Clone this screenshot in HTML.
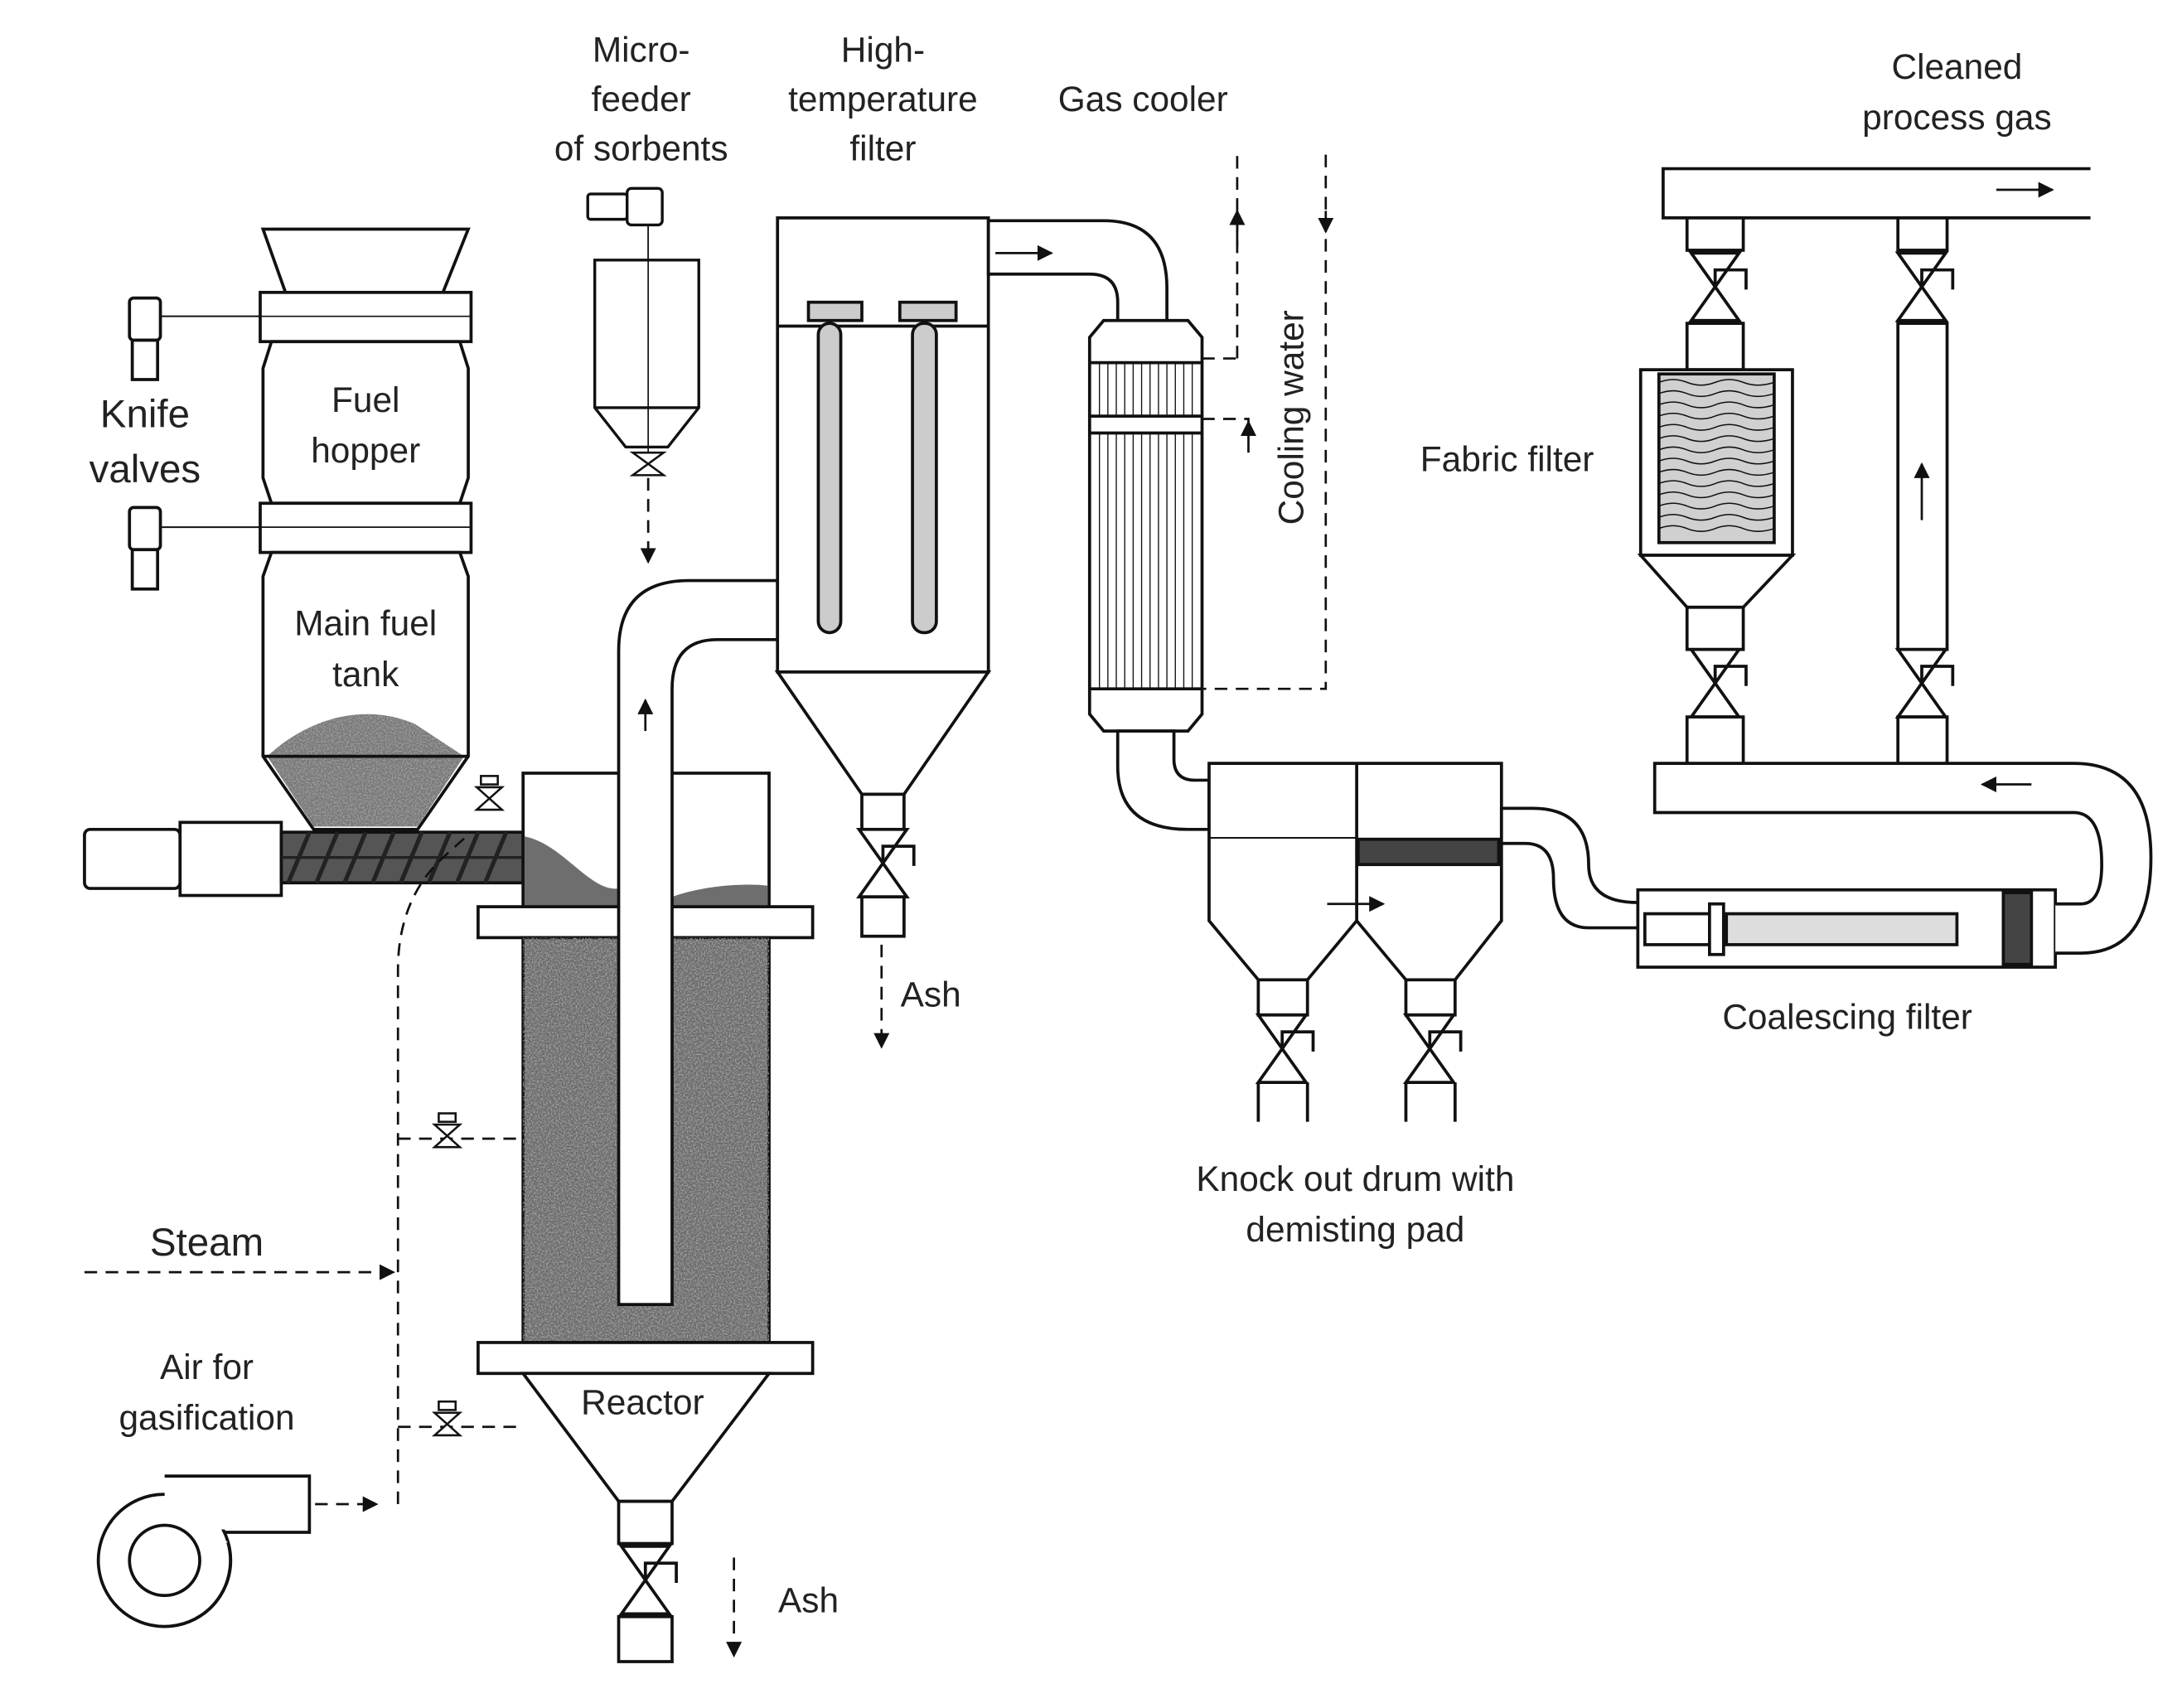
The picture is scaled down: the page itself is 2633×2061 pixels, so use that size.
<!DOCTYPE html>
<html><head><meta charset="utf-8"><style>
html,body{margin:0;padding:0;background:#fff;}
svg{display:block;}
text{font-family:"Liberation Sans",Arial,sans-serif;fill:#222;}
</style></head><body>
<svg width="2633" height="2061" viewBox="0 0 1552 1215" xmlns="http://www.w3.org/2000/svg">
<defs>
<filter id="grain" x="0" y="0" width="100%" height="100%">
<feTurbulence type="fractalNoise" baseFrequency="0.9" numOctaves="2" seed="3"/>
<feColorMatrix type="matrix" values="0 0 0 0 0.35  0 0 0 0 0.35  0 0 0 0 0.35  0 0 0 3 -1.2"/>
<feComposite in2="SourceGraphic" operator="in"/>
</filter>
<g id="valve" stroke="#111" stroke-width="2.2" fill="#fff">
<path d="M-17,-24 L17,-24 L-17,24 L17,24 Z"/>
<path d="M0,0 V-12 H22 V2" fill="none"/>
</g>
<g id="sv" stroke="#111" stroke-width="1.5" fill="#fff">
<path d="M-9,-8 L9,-8 L-9,8 L9,8 Z"/>
<rect x="-6" y="-16" width="12" height="6" fill="#fff"/>
</g>
<marker id="ah" viewBox="0 0 10 10" refX="9" refY="5" markerWidth="7" markerHeight="7" orient="auto"><path d="M0,0 L10,5 L0,10 Z" fill="#111"/></marker>
</defs>
<g stroke="#111" stroke-width="2.2" fill="#fff">

<polygon points="187,163 333,163 315,208 203,208"/>
<rect x="185" y="208" width="150" height="35"/>
<line x1="185" y1="225" x2="335" y2="225" stroke-width="1"/>
<polygon points="193,243 327,243 333,262 333,340 327,358 193,358 187,340 187,262"/>
<rect x="185" y="358" width="150" height="35"/>
<line x1="185" y1="375" x2="335" y2="375" stroke-width="1"/>
<path d="M193,393 L327,393 L333,410 L333,538 L297,590 L223,590 L187,538 L187,410 Z"/>
<path d="M190,538 C220,510 260,500 295,515 L330,538 L297,588 L223,588 Z" fill="#777" stroke="none"/>
<path d="M190,538 C220,510 260,500 295,515 L330,538 L297,588 L223,588 Z" fill="#aaa" stroke="none" filter="url(#grain)"/>
<line x1="187" y1="538" x2="333" y2="538"/>
<line x1="112" y1="225" x2="185" y2="225" stroke-width="1.2"/>
<rect x="92" y="212" width="22" height="30" rx="3"/><rect x="94" y="242" width="18" height="28"/>
<line x1="112" y1="375" x2="185" y2="375" stroke-width="1.2"/>
<rect x="92" y="361" width="22" height="30" rx="3"/><rect x="94" y="391" width="18" height="28"/>

<rect x="60" y="590" width="68" height="42" rx="4"/>
<rect x="128" y="585" width="72" height="52"/>
<rect x="200" y="592" width="172" height="36" fill="#555"/>
<path d="M205,628 L220,592 M225,628 L240,592 M245,628 L260,592 M265,628 L280,592 M285,628 L300,592 M305,628 L320,592 M325,628 L340,592 M345,628 L360,592" stroke="#222" stroke-width="3"/>
<line x1="200" y1="610" x2="372" y2="610" stroke="#222" stroke-width="2"/>

<rect x="372" y="550" width="175" height="95"/>
<path d="M373,595 C400,600 420,635 440,632 L440,644 L373,644 Z M478,638 C500,630 530,628 546,630 L546,644 L478,644 Z" fill="#6e6e6e" stroke="none"/>
<rect x="340" y="645" width="238" height="22"/>
<rect x="372" y="667" width="175" height="288" fill="#6a6a6a"/>
<rect x="372" y="667" width="175" height="288" fill="#aaa" stroke="none" filter="url(#grain)"/>
<rect x="340" y="955" width="238" height="22"/>
<polygon points="372,977 547,977 478,1068 440,1068"/>
<rect x="440" y="1068" width="38" height="30"/>
<use href="#valve" x="459" y="1124"/>
<rect x="440" y="1150" width="38" height="32"/>
<path d="M440,928 L478,928 L478,490 Q478,455 510,455 L553,455 L553,413 L490,413 Q440,413 440,463 Z"/>

<rect x="553" y="155" width="150" height="323"/>
<line x1="553" y1="232" x2="703" y2="232"/>
<rect x="575" y="215" width="38" height="13" fill="#ccc"/>
<rect x="640" y="215" width="40" height="13" fill="#ccc"/>
<rect x="582" y="230" width="16" height="220" rx="8" fill="#ccc"/>
<rect x="649" y="230" width="17" height="220" rx="8" fill="#ccc"/>
<polygon points="553,478 703,478 643,565 613,565"/>
<rect x="613" y="565" width="30" height="25"/>
<use href="#valve" x="628" y="614"/>
<rect x="613" y="638" width="30" height="28"/>

<path d="M703,157 L785,157 Q830,157 830,205 L830,230 L795,230 L795,215 Q795,195 775,195 L703,195 Z"/>

<path d="M775,240 L785,228 L845,228 L855,240 L855,508 L845,520 L785,520 L775,508 Z"/>
<line x1="775" y1="258" x2="855" y2="258"/><line x1="775" y1="296" x2="855" y2="296"/>
<line x1="775" y1="308" x2="855" y2="308"/><line x1="775" y1="490" x2="855" y2="490"/>
<g stroke-width="0.8">
<path d="M782,258V296M788,258V296M794,258V296M800,258V296M806,258V296M812,258V296M818,258V296M824,258V296M830,258V296M836,258V296M842,258V296M848,258V296"/>
<path d="M782,308V490M788,308V490M794,308V490M800,308V490M806,308V490M812,308V490M818,308V490M824,308V490M830,308V490M836,308V490M842,308V490M848,308V490"/>
</g>
<path d="M795,520 L795,545 Q795,590 845,590 L860,590 L860,555 L850,555 Q835,555 835,540 L835,520 Z"/>

<path d="M860,543 L1068,543 L1068,655 L1035,697 L1000,697 L965,655 L930,697 L895,697 L860,655 Z"/>
<line x1="965" y1="543" x2="965" y2="655"/>
<line x1="860" y1="596" x2="965" y2="596" stroke-width="1.2"/>
<rect x="966" y="597" width="100" height="18" fill="#444"/>
<rect x="895" y="697" width="35" height="25"/>
<use href="#valve" x="912" y="746"/>
<path d="M895,770 V798 M930,770 V798"/>
<rect x="1000" y="697" width="35" height="25"/>
<use href="#valve" x="1017" y="746"/>
<path d="M1000,770 V798 M1035,770 V798"/>

<path d="M1068,575 L1090,575 Q1130,575 1130,615 Q1130,642 1165,642 L1165,660 L1130,660 Q1105,660 1105,625 Q1105,600 1085,600 L1068,600 Z" fill="#fff"/>

<rect x="1165" y="633" width="297" height="55"/>
<rect x="1170" y="650" width="50" height="22"/>
<rect x="1216" y="643" width="10" height="36"/>
<rect x="1228" y="650" width="164" height="22" fill="#ddd"/>
<rect x="1425" y="635" width="20" height="51" fill="#444"/>
<path d="M1462,643 L1480,643 Q1495,643 1495,615 Q1495,578 1475,578 L1177,578 L1177,543 L1475,543 Q1530,543 1530,610 Q1530,678 1480,678 L1462,678" />

<path d="M1487,120 L1183,120 L1183,155 L1487,155"/>
<rect x="1200" y="155" width="40" height="23"/>
<use href="#valve" x="1220" y="204"/>
<rect x="1200" y="230" width="40" height="33"/>
<rect x="1167" y="263" width="108" height="132"/>
<rect x="1180" y="266" width="82" height="120" fill="#d0d0d0"/>
<g stroke-width="0.9" fill="none">
<path d="M1180,272 q10,-4 20,0 t20,0 t20,0 t22,0 M1180,280 q10,-4 20,0 t20,0 t20,0 t22,0 M1180,288 q10,-4 20,0 t20,0 t20,0 t22,0 M1180,296 q10,-4 20,0 t20,0 t20,0 t22,0 M1180,304 q10,-4 20,0 t20,0 t20,0 t22,0 M1180,312 q10,-4 20,0 t20,0 t20,0 t22,0 M1180,320 q10,-4 20,0 t20,0 t20,0 t22,0 M1180,328 q10,-4 20,0 t20,0 t20,0 t22,0 M1180,336 q10,-4 20,0 t20,0 t20,0 t22,0 M1180,344 q10,-4 20,0 t20,0 t20,0 t22,0 M1180,352 q10,-4 20,0 t20,0 t20,0 t22,0 M1180,360 q10,-4 20,0 t20,0 t20,0 t22,0 M1180,368 q10,-4 20,0 t20,0 t20,0 t22,0 M1180,376 q10,-4 20,0 t20,0 t20,0 t22,0"/>
</g>
<polygon points="1167,395 1275,395 1240,432 1200,432"/>
<rect x="1200" y="432" width="40" height="30"/>
<use href="#valve" x="1220" y="486"/>
<rect x="1200" y="510" width="40" height="33"/>
<rect x="1350" y="155" width="35" height="23"/>
<use href="#valve" x="1367" y="204"/>
<rect x="1350" y="230" width="35" height="232"/>
<use href="#valve" x="1367" y="486"/>
<rect x="1350" y="510" width="35" height="33"/>

<path d="M117,1050 L220,1050 L220,1090 L160,1090"/>
<circle cx="117" cy="1110" r="47"/>
<rect x="112" y="1052" width="50" height="36" stroke="none"/>
<path d="M117,1063 L117,1050 M162,1090 L162,1100" stroke="none"/>
<path d="M117,1063 A47,47 0 1 0 162,1097"/>
<circle cx="117" cy="1110" r="25"/>
</g>

<g stroke="#111" stroke-width="1.6" fill="none" stroke-dasharray="9,6">
<path d="M461,340 V400" marker-end="url(#ah)"/>
<path d="M627,672 V745" marker-end="url(#ah)"/>
<path d="M522,1108 V1178" marker-end="url(#ah)"/>
<path d="M880,255 V110 M943,110 V490 H855 M855,255 H880 M855,298 H888 V300"/>
<path d="M60,905 H280" marker-end="url(#ah)"/>
<path d="M224,1070 H268" marker-end="url(#ah)"/>
<path d="M283,1070 V690 Q283,640 315,610 L335,592"/>
<path d="M283,810 H372 M283,1015 H372"/>
</g>
<g stroke="#111" stroke-width="1.6" fill="none">
<path d="M880,175 V150" marker-end="url(#ah)"/>
<path d="M943,150 V165" marker-end="url(#ah)"/>
<path d="M888,322 V300" marker-end="url(#ah)"/>
<path d="M459,520 V498" marker-end="url(#ah)"/>
<path d="M708,180 H748" marker-end="url(#ah)"/>
<path d="M944,643 H984" marker-end="url(#ah)"/>
<path d="M1420,135 H1460" marker-end="url(#ah)"/>
<path d="M1445,558 H1410" marker-end="url(#ah)"/>
<path d="M1367,370 V330" marker-end="url(#ah)"/>
<path d="M461,160 V330" stroke-width="1"/>
</g>
<g stroke="#111" stroke-width="2" fill="#fff">
<rect x="418" y="138" width="28" height="18" rx="2"/>
<rect x="446" y="134" width="25" height="26" rx="3"/>
<path d="M423,185 L497,185 L497,290 L475,318 L445,318 L423,290 Z"/>
<line x1="423" y1="290" x2="497" y2="290"/>
<line x1="461" y1="160" x2="461" y2="318" stroke-width="1"/>
<path d="M450,322 L472,322 L450,338 L472,338 Z" stroke-width="1.5"/>
</g>
<use href="#sv" x="348" y="568"/>
<use href="#sv" x="318" y="808"/>
<use href="#sv" x="318" y="1013"/>

<g font-size="25" text-anchor="middle">
<text x="456" y="44">Micro-</text>
<text x="456" y="79">feeder</text>
<text x="456" y="114">of sorbents</text>
<text x="628" y="44">High-</text>
<text x="628" y="79">temperature</text>
<text x="628" y="114">filter</text>
<text x="813" y="79">Gas cooler</text>
<text x="1392" y="56">Cleaned</text>
<text x="1392" y="92">process gas</text>
<text x="260" y="293">Fuel</text>
<text x="260" y="329">hopper</text>
<text x="260" y="452">Main fuel</text>
<text x="260" y="488">tank</text>
<text x="1072" y="335">Fabric filter</text>
<text x="662" y="716">Ash</text>
<text x="575" y="1147">Ash</text>
<text x="1314" y="732">Coalescing filter</text>
<text x="964" y="847">Knock out drum with</text>
<text x="964" y="883">demisting pad</text>
<text x="457" y="1006">Reactor</text>
<text x="147" y="981">Air for</text>
<text x="147" y="1017">gasification</text>
<text x="918" y="297" transform="rotate(-90 918 297)" dy="9">Cooling water</text>
</g>
<g font-size="28" text-anchor="middle">
<text x="103" y="304">Knife</text>
<text x="103" y="343">valves</text>
<text x="147" y="893">Steam</text>
</g>
</svg>
</body></html>
